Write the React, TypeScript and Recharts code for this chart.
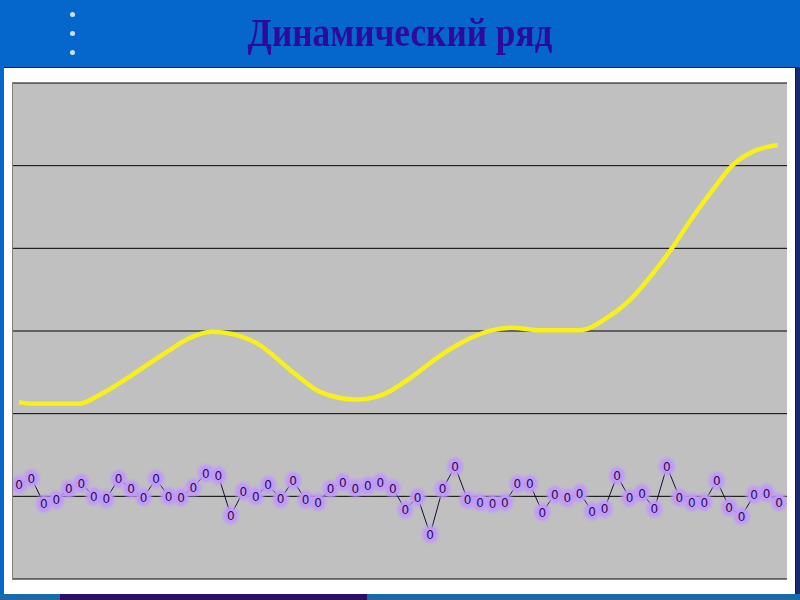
import { LineChart, Line, XAxis, YAxis, CartesianGrid } from 'recharts';

// noisy series around the baseline, one point per step
const noiseValues = [
  11.4, 12.2, 9.1, 9.6, 10.9, 11.6, 10.0, 9.7, 12.1, 10.9,
  9.9, 12.1, 10.0, 9.9, 11.1, 12.8, 12.5, 7.7, 10.6, 10.0,
  11.4, 9.7, 11.9, 9.6, 9.3, 10.9, 11.7, 11.0, 11.3, 11.7,
  11.0, 8.4, 9.9, 5.4, 10.9, 13.6, 9.6, 9.3, 9.1, 9.3,
  11.5, 11.5, 8.1, 10.2, 9.8, 10.4, 8.2, 8.5, 12.5, 9.8,
  10.4, 8.5, 13.6, 9.9, 9.3, 9.3, 11.9, 8.7, 7.6, 10.2,
  10.4, 9.3,
];

// smooth trend, sampled at these step positions
const trendSteps = [
  1, 2.1, 5.8, 7.5, 10.1, 12.9, 14.5, 16.5, 18.2, 20.1,
  23, 25.2, 28.1, 30.2, 32.4, 34.5, 36.4, 39, 40.6, 42.8,
  46, 48.2, 50, 51.9, 53.4, 54.9, 56.5, 58.3, 59.9, 61.9,
];
const trendValues = [
  21.4, 21.2, 21.2, 22.3, 24.7, 27.5, 29.0, 29.9, 29.6, 28.5,
  25.0, 22.6, 21.7, 22.3, 24.3, 26.7, 28.5, 30.1, 30.4, 30.1,
  30.1, 31.6, 33.7, 37.0, 40.0, 43.4, 46.7, 50.1, 51.7, 52.5,
];

const yTicks = [0, 10, 20, 30, 40, 50];
const title = 'Динамический ряд';

const noiseData = noiseValues.map((v, i) => ({ i: i + 1, v }));
const trendData = trendSteps.map((s, k) => ({ i: s, v: trendValues[k] }));

function ZeroDot(props: any) {
  const { cx, cy, index } = props;
  if (cx == null || cy == null) return null;
  return (
    <g key={`dot-${index}`}>
      <ellipse cx={cx} cy={cy} rx={8} ry={9} fill="#c09af8" filter="url(#glow)" />
      <text
        x={cx}
        y={cy + 0.5}
        textAnchor="middle"
        dominantBaseline="central"
        fontSize={12}
        fontFamily="DejaVu Sans"
        fill="#2a0a50"
      >
        0
      </text>
    </g>
  );
}

export default function App() {
  return (
    <div
      style={{
        position: 'absolute',
        left: 0,
        top: 0,
        width: 800,
        height: 600,
        background: '#0566cc',
        overflow: 'hidden',
      }}
    >
      {[14, 33, 52].map((y) => (
        <div
          key={y}
          style={{
            position: 'absolute',
            left: 70,
            top: y - 2,
            width: 5,
            height: 5,
            borderRadius: 3,
            background: '#cfe0f4',
          }}
        />
      ))}
      <div
        style={{
          position: 'absolute',
          left: 0,
          width: 800,
          top: 8,
          textAlign: 'center',
          fontFamily: '"Liberation Serif", serif',
          fontWeight: 'bold',
          fontSize: 41,
          color: '#2e0a9a',
          transform: 'scaleX(0.86)',
          lineHeight: '48px',
        }}
      >
        {title}
      </div>
      <div style={{ position: 'absolute', left: 0, top: 594, width: 800, height: 6, background: '#1b6aa8' }} />
      <div style={{ position: 'absolute', left: 60, top: 594, width: 307, height: 6, background: '#2c0f6a' }} />
      <div
        style={{
          position: 'absolute',
          left: 4,
          top: 67,
          width: 791,
          height: 526,
          background: '#ffffff',
          borderTop: '1px solid #1a1060',
          borderRight: '1px solid #1a1060',
        }}
      />
      <div style={{ position: 'absolute', left: 796, top: 67, width: 4, height: 527, background: '#1a2a70' }} />
      <div
        style={{
          position: 'absolute',
          left: 12,
          top: 82,
          borderTop: '1px solid #808080',
          borderLeft: '1px solid #808080',
        }}
      >
        <LineChart width={774} height={497} margin={{ top: 0, right: 0, bottom: 1, left: 0 }}>
          <defs>
            <filter id="glow" x="-50%" y="-50%" width="200%" height="200%">
              <feGaussianBlur stdDeviation="1.8" />
            </filter>
          </defs>
          <CartesianGrid vertical={false} stroke="#000000" fill="#c0c0c0" />
          <XAxis type="number" dataKey="i" domain={[0.52, 62.64]} hide allowDataOverflow />
          <YAxis type="number" domain={[0, 60]} ticks={yTicks} hide allowDataOverflow />
          <Line
            data={trendData}
            dataKey="v"
            type="monotone"
            stroke="#f8f01a"
            strokeWidth={4.5}
            dot={false}
            isAnimationActive={false}
          />
          <Line
            data={noiseData}
            dataKey="v"
            type="linear"
            stroke="#10103a"
            strokeWidth={1}
            dot={<ZeroDot />}
            isAnimationActive={false}
          />
        </LineChart>
      </div>
    </div>
  );
}
